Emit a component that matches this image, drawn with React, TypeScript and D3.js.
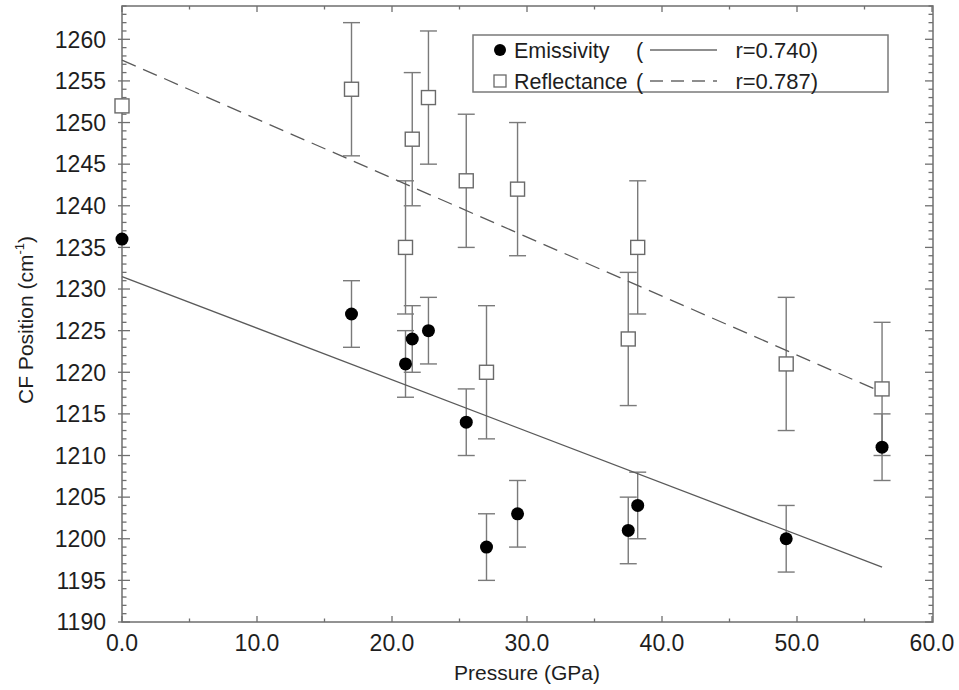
import { useEffect, useRef } from "react";
import * as d3 from "d3";

// values
const pressure = [0, 17.0, 21.0, 21.5, 22.7, 25.5, 27.0, 29.3, 37.5, 38.2, 49.2, 56.3];
const emissivity = [1236, 1227, 1221, 1224, 1225, 1214, 1199, 1203, 1201, 1204, 1200, 1211];
const emissivityErr = [0, 4, 4, 4, 4, 4, 4, 4, 4, 4, 4, 4];
const reflectance = [1252, 1254, 1235, 1248, 1253, 1243, 1220, 1242, 1224, 1235, 1221, 1218];
const reflectanceErr = [0, 8, 8, 8, 8, 8, 8, 8, 8, 8, 8, 8];

// linear fits, end points as drawn
const fitPressure = [0, 56.3];
const emissivityFit = [1231.5, 1196.6];
const reflectanceFit = [1257.5, 1217.6];

const xTicks = [0, 10, 20, 30, 40, 50, 60];
const yTicks = [1190, 1195, 1200, 1205, 1210, 1215, 1220, 1225, 1230, 1235, 1240, 1245, 1250, 1255, 1260];

const legendRows = [
    { name: "Emissivity", r: "r=0.740)", marker: "circle", dash: "" },
    { name: "Reflectance", r: "r=0.787)", marker: "square", dash: "13,8" },
];

type Pt = { p: number; v: number; e: number };

export default function App() {
    const ref = useRef<SVGSVGElement | null>(null);

    useEffect(() => {
        drawChart();
    }, []);

    function drawChart() {
        const svg = d3.select(ref.current);
        svg.selectAll("*").remove();

        const W = 959, H = 690;
        const left = 122, right = 932, top = 6, bottom = 622;
        const font = "Liberation Sans, Arial, Helvetica, sans-serif";
        const axisColor = "#6f6f6f";
        const textColor = "#1e1e1e";

        svg.attr("width", W).attr("height", H);
        svg.append("rect").attr("width", W).attr("height", H).attr("fill", "white");

        const x = d3.scaleLinear().domain([0, 60]).range([left, right]);
        const y = d3.scaleLinear().domain([1190, 1264]).range([bottom, top]);

        const emis: Pt[] = pressure.map((p, i) => ({ p, v: emissivity[i], e: emissivityErr[i] }));
        const refl: Pt[] = pressure.map((p, i) => ({ p, v: reflectance[i], e: reflectanceErr[i] }));

        // frame
        svg.append("rect")
            .attr("x", left)
            .attr("y", top)
            .attr("width", right + 1 - left)
            .attr("height", bottom - top)
            .attr("fill", "none")
            .attr("stroke", axisColor)
            .attr("stroke-width", 1.5);

        const ticks = svg.append("g").attr("stroke", axisColor).attr("stroke-width", 1.3);

        // y ticks: minor every 1, major every 5 (left and mirrored right)
        d3.range(1190, 1265, 1).forEach((v) => {
            const major = v % 5 === 0;
            const len = major ? 8 : 4.5;
            const yy = y(v);
            ticks.append("line")
                .attr("x1", left - (major ? 4 : 0)).attr("x2", left + len)
                .attr("y1", yy).attr("y2", yy);
            ticks.append("line")
                .attr("x1", right + 1).attr("x2", right + 1 - len)
                .attr("y1", yy).attr("y2", yy);
        });

        // x ticks: minor every 5, major every 10 (bottom and mirrored top)
        d3.range(0, 61, 5).forEach((p) => {
            const major = p % 10 === 0;
            const len = major ? 6 : 3.5;
            const xx = x(p);
            ticks.append("line")
                .attr("x1", xx).attr("x2", xx)
                .attr("y1", bottom).attr("y2", bottom - len);
            ticks.append("line")
                .attr("x1", xx).attr("x2", xx)
                .attr("y1", top).attr("y2", top + len);
        });

        // tick labels
        svg.append("g")
            .selectAll("text")
            .data(yTicks)
            .enter()
            .append("text")
            .attr("x", 106)
            .attr("y", (d) => y(d))
            .attr("dy", "0.36em")
            .attr("text-anchor", "end")
            .attr("font-family", font)
            .attr("font-size", 23)
            .attr("fill", textColor)
            .text((d) => d);

        svg.append("g")
            .selectAll("text")
            .data(xTicks)
            .enter()
            .append("text")
            .attr("x", (d) => x(d))
            .attr("y", 651)
            .attr("text-anchor", "middle")
            .attr("font-family", font)
            .attr("font-size", 23)
            .attr("fill", textColor)
            .text((d) => d.toFixed(1));

        // axis titles
        svg.append("text")
            .attr("x", (left + right) / 2)
            .attr("y", 680)
            .attr("text-anchor", "middle")
            .attr("font-family", font)
            .attr("font-size", 21)
            .attr("fill", textColor)
            .text("Pressure (GPa)");

        const yTitle = svg.append("text")
            .attr("transform", `translate(33, 320) rotate(-90)`)
            .attr("text-anchor", "middle")
            .attr("font-family", font)
            .attr("font-size", 21)
            .attr("fill", textColor);
        yTitle.append("tspan").text("CF Position (cm");
        yTitle.append("tspan").attr("dy", -9).attr("font-size", 13).text("-1");
        yTitle.append("tspan").attr("dy", 9).text(")");

        // error bars
        const errG = svg.append("g").attr("stroke", "#7a7a7a").attr("stroke-width", 1.4).attr("fill", "none");
        [...emis, ...refl].filter((d) => d.e > 0).forEach((d) => {
            const xx = x(d.p);
            const y1 = y(d.v - d.e), y2 = y(d.v + d.e);
            errG.append("line").attr("x1", xx).attr("x2", xx).attr("y1", y1).attr("y2", y2);
            errG.append("line").attr("x1", xx - 8.5).attr("x2", xx + 8.5).attr("y1", y1).attr("y2", y1);
            errG.append("line").attr("x1", xx - 8.5).attr("x2", xx + 8.5).attr("y1", y2).attr("y2", y2);
        });

        // fit lines
        const line = d3.line<[number, number]>()
            .x((d) => x(d[0]))
            .y((d) => y(d[1]));

        svg.append("path")
            .datum(fitPressure.map((p, i) => [p, emissivityFit[i]] as [number, number]))
            .attr("fill", "none")
            .attr("stroke", "#5a5a5a")
            .attr("stroke-width", 1.3)
            .attr("d", line);

        svg.append("path")
            .datum(fitPressure.map((p, i) => [p, reflectanceFit[i]] as [number, number]))
            .attr("fill", "none")
            .attr("stroke", "#5a5a5a")
            .attr("stroke-width", 1.3)
            .attr("stroke-dasharray", "15,8")
            .attr("d", line);

        // markers
        svg.append("g")
            .selectAll("rect")
            .data(refl)
            .enter()
            .append("rect")
            .attr("x", (d) => x(d.p) - 7)
            .attr("y", (d) => y(d.v) - 7)
            .attr("width", 14)
            .attr("height", 14)
            .attr("fill", "white")
            .attr("stroke", "#6a6a6a")
            .attr("stroke-width", 1.4);

        svg.append("g")
            .selectAll("circle")
            .data(emis)
            .enter()
            .append("circle")
            .attr("cx", (d) => x(d.p))
            .attr("cy", (d) => y(d.v))
            .attr("r", 6.5)
            .attr("fill", "black");

        // legend
        const lg = svg.append("g");
        lg.append("rect")
            .attr("x", 473)
            .attr("y", 35)
            .attr("width", 415)
            .attr("height", 57)
            .attr("fill", "white")
            .attr("stroke", "#7a7a7a")
            .attr("stroke-width", 1.5);

        legendRows.forEach((row, i) => {
            const cy = 50 + i * 31;
            if (row.marker === "circle") {
                lg.append("circle").attr("cx", 500).attr("cy", cy).attr("r", 6).attr("fill", "black");
            } else {
                lg.append("rect")
                    .attr("x", 494).attr("y", cy - 6)
                    .attr("width", 12).attr("height", 12)
                    .attr("fill", "white").attr("stroke", "#6a6a6a").attr("stroke-width", 1.3);
            }
            lg.append("text")
                .attr("x", 514)
                .attr("y", cy)
                .attr("dy", "0.36em")
                .attr("font-family", font)
                .attr("font-size", 21.5)
                .attr("fill", textColor)
                .text(row.name);
            lg.append("text")
                .attr("x", 636)
                .attr("y", cy)
                .attr("dy", "0.36em")
                .attr("font-family", font)
                .attr("font-size", 21.5)
                .attr("fill", textColor)
                .text("(");
            lg.append("line")
                .attr("x1", 650).attr("x2", 717)
                .attr("y1", cy).attr("y2", cy)
                .attr("stroke", "#6a6a6a")
                .attr("stroke-width", 1.3)
                .attr("stroke-dasharray", row.dash || null);
            lg.append("text")
                .attr("x", 818)
                .attr("y", cy)
                .attr("dy", "0.36em")
                .attr("text-anchor", "end")
                .attr("font-family", font)
                .attr("font-size", 22)
                .attr("fill", textColor)
                .text(row.r);
        });
    }

    return <svg ref={ref} style={{ position: "absolute", left: 0, top: 0 }} />;
}
